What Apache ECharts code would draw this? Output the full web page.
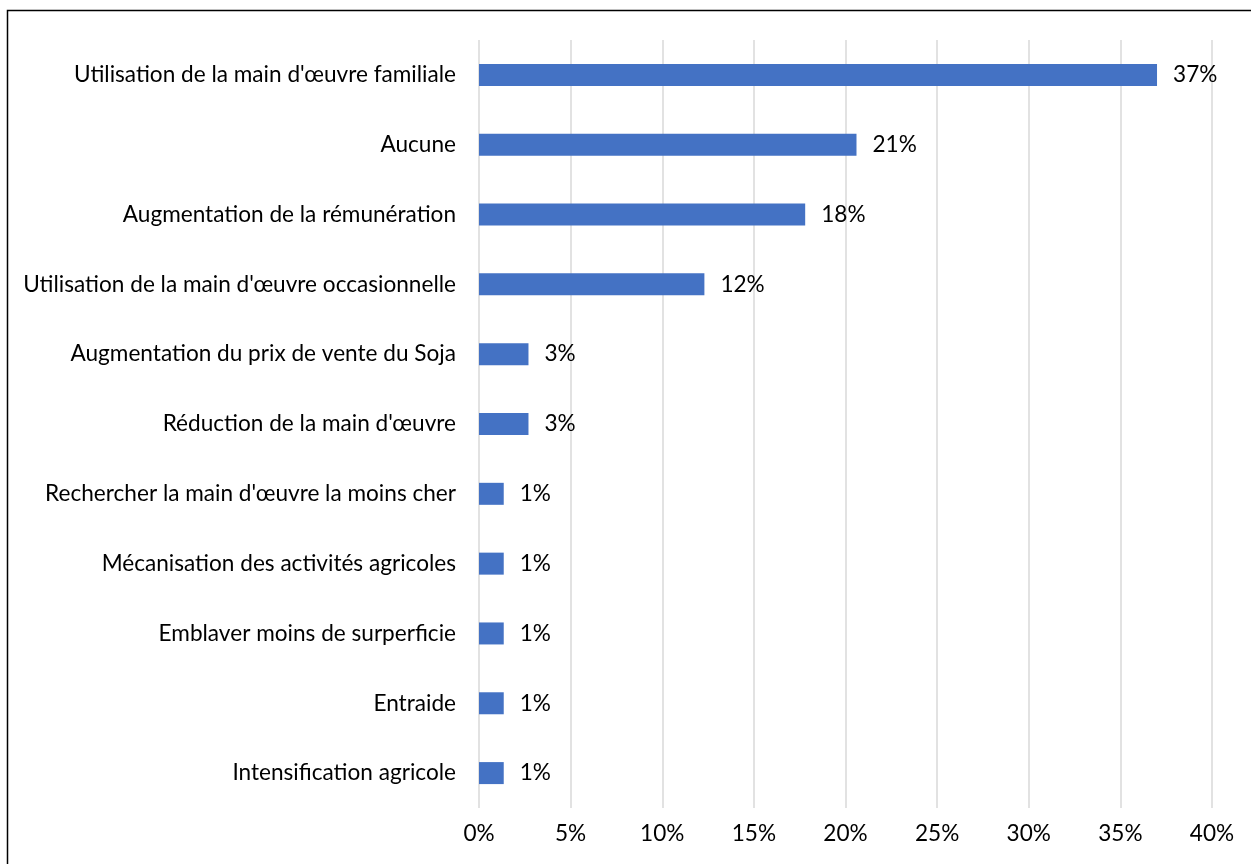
<!DOCTYPE html>
<html>
<head>
<meta charset="utf-8">
<script src="https://cdn.jsdelivr.net/npm/echarts@6/dist/echarts.min.js"></script>
<style>
  html, body { margin: 0; padding: 0; background: #fff; }
  #chart { width: 1251px; height: 864px; }
</style>
</head>
<body>
<div id="chart"></div>
<script>
// categories, top to bottom as in the picture
const categories = [
  "Utilisation de la main d'œuvre familiale",
  'Aucune',
  'Augmentation de la rémunération',
  "Utilisation de la main d'œuvre occasionnelle",
  'Augmentation du prix de vente du Soja',
  "Réduction de la main d'œuvre",
  "Rechercher la main d'œuvre la moins cher",
  'Mécanisation des activités agricoles',
  'Emblaver moins de surperficie',
  'Entraide',
  'Intensification agricole'
]

// share of answers (%)
const values = [37.0, 20.6, 17.8, 12.3, 2.7, 2.7, 1.35, 1.35, 1.35, 1.35, 1.35]

const xTicks = [0, 5, 10, 15, 20, 25, 30, 35, 40]

const font = 'Lato, "Open Sans", sans-serif'
const fontSize = 22.6

const myChart = echarts.init(document.getElementById('chart'))

myChart.setOption({
  animation: false,
  backgroundColor: '#fff',
  graphic: [{
    type: 'rect',
    shape: { x: 7.5, y: 10.5, width: 1260, height: 870 },
    style: { fill: 'none', stroke: '#000', lineWidth: 1.5 },
    silent: true
  }],
  grid: { left: 479, right: 39, top: 40, bottom: 56 },
  xAxis: {
    type: 'value',
    min: xTicks[0],
    max: xTicks[xTicks.length - 1],
    interval: 5,
    axisLine: { show: false },
    axisTick: { show: false },
    splitLine: { lineStyle: { color: '#d9d9d9', width: 1.5 } },
    axisLabel: {
      formatter: (v) => v + '%',
      color: '#000',
      fontFamily: font,
      fontSize: fontSize,
      margin: 14
    }
  },
  yAxis: {
    type: 'category',
    data: categories,
    inverse: true,
    axisLine: { show: false },
    axisTick: { show: false },
    axisLabel: {
      color: '#000',
      fontFamily: font,
      fontSize: fontSize,
      margin: 23
    }
  },
  series: [{
    type: 'bar',
    data: values,
    barWidth: 22,
    itemStyle: { color: '#4472c4' },
    label: {
      show: true,
      position: 'right',
      distance: 16,
      formatter: (p) => Math.round(p.value) + '%',
      color: '#000',
      fontFamily: font,
      fontSize: fontSize
    }
  }]
})
</script>
</body>
</html>
